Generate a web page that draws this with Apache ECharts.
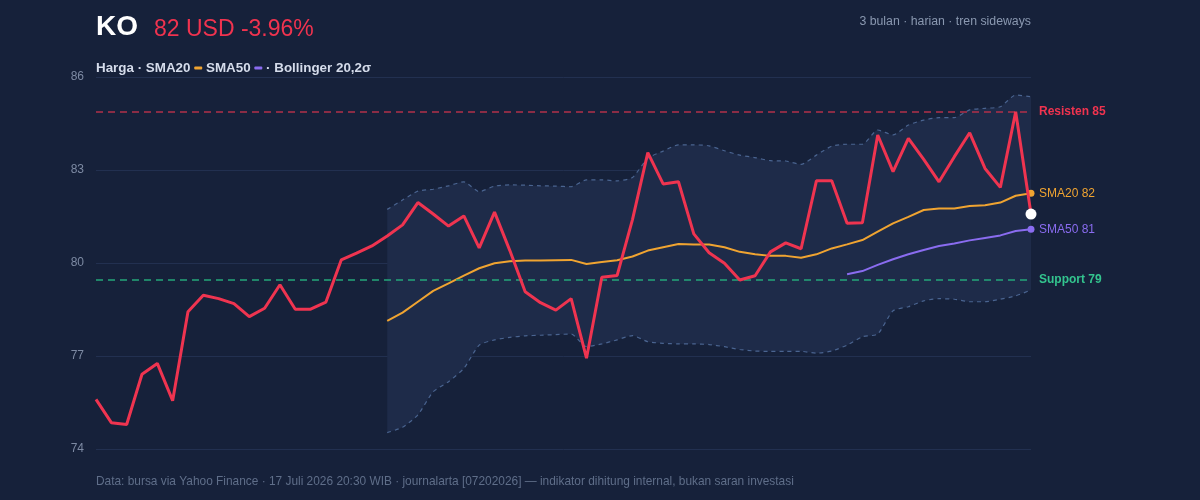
<!DOCTYPE html>
<html>
<head>
<meta charset="utf-8">
<script src="https://cdn.jsdelivr.net/npm/echarts@6/dist/echarts.min.js"></script>
<style>
html,body{margin:0;padding:0;background:#16213a;}
#c{width:1200px;height:500px;}
</style>
</head>
<body>
<div id="c"></div>
<script>
// ---- data ----
const dates = ['04-23','04-24','04-27','04-28','04-29','04-30',
'05-01','05-04','05-05','05-06','05-07','05-08','05-11','05-12','05-13','05-14','05-15','05-18','05-19','05-20','05-21','05-22','05-25','05-26','05-27','05-28','05-29',
'06-01','06-02','06-03','06-04','06-05','06-08','06-09','06-10','06-11','06-12','06-15','06-16','06-17','06-18','06-19','06-22','06-23','06-24','06-25','06-26','06-29','06-30',
'07-01','07-02','07-03','07-06','07-07','07-08','07-09','07-10','07-13','07-14','07-15','07-16','07-17'];

const price = [75.60,74.85,74.79,76.41,76.76,75.56,78.43,78.96,78.85,78.69,
78.27,78.54,79.30,78.51,78.51,78.74,80.10,80.32,80.55,80.87,
81.23,81.95,81.58,81.19,81.52,80.49,81.64,80.40,79.07,78.72,
78.48,78.85,76.93,79.54,79.60,81.40,83.56,82.55,82.62,80.94,
80.33,79.99,79.45,79.59,80.36,80.65,80.46,82.65,82.65,81.28,
81.30,84.13,82.95,84.02,83.34,82.62,83.43,84.20,83.05,82.44,
84.88,81.58];

const sma20 = [null,null,null,null,null,null,null,null,null,null,
null,null,null,null,null,null,null,null,null,78.13,
78.40,78.75,79.10,79.34,79.59,79.83,79.99,80.06,80.08,80.08,
80.09,80.10,79.97,80.03,80.09,80.21,80.40,80.51,80.61,80.60,
80.60,80.51,80.36,80.28,80.23,80.23,80.17,80.28,80.47,80.60,
80.74,81.01,81.28,81.49,81.71,81.76,81.76,81.84,81.86,81.95,
82.17,82.25];

const sma50 = [null,null,null,null,null,null,null,null,null,null,
null,null,null,null,null,null,null,null,null,null,
null,null,null,null,null,null,null,null,null,null,
null,null,null,null,null,null,null,null,null,null,
null,null,null,null,null,null,null,null,null,79.64,
79.74,79.94,80.12,80.28,80.42,80.55,80.63,80.73,80.81,80.89,
81.03,81.09];

const bbUpper = [null,null,null,null,null,null,null,null,null,null,
null,null,null,null,null,null,null,null,null,81.73,
82.03,82.32,82.38,82.49,82.62,82.30,82.48,82.52,82.51,82.49,
82.48,82.46,82.68,82.68,82.65,82.76,83.38,83.61,83.81,83.81,
83.78,83.62,83.48,83.40,83.30,83.29,83.18,83.48,83.77,83.83,
83.83,84.29,84.13,84.45,84.61,84.69,84.69,84.94,84.99,85.04,
85.42,85.36];

const bbLower = [null,null,null,null,null,null,null,null,null,null,
null,null,null,null,null,null,null,null,null,74.53,
74.70,75.10,75.85,76.17,76.60,77.35,77.52,77.60,77.65,77.67,
77.69,77.71,77.30,77.39,77.52,77.66,77.46,77.41,77.39,77.39,
77.37,77.30,77.21,77.16,77.15,77.15,77.15,77.09,77.16,77.35,
77.62,77.71,78.46,78.59,78.78,78.85,78.83,78.75,78.75,78.83,
78.94,79.13];

const resistance = 84.88;
const support = 79.45;
const yTicks = {min: 74, max: 86, step: 3};

const labels = {
  ticker: 'KO',
  quote: '82 USD -3.96%',
  sub: '3 bulan · harian · tren sideways',
  resist: 'Resisten 85',
  support: 'Support 79',
  sma20: 'SMA20 82',
  sma50: 'SMA50 81',
  footer: 'Data: bursa via Yahoo Finance · 17 Juli 2026 20:30 WIB · journalarta [07202026] — indikator dihitung internal, bukan saran investasi'
};

// ---- chart ----
const FONT = '"Liberation Sans", Arial, Helvetica, sans-serif';
const C = {
  bg: '#16213a', price: '#ef3450', sma20: '#f0a431', sma50: '#8a6cf0',
  band: '#4a6490', bandFill: '#1e2b49', grid: '#223050', axis: '#7d8aa3',
  resist: '#b13049', resistText: '#f0334f', support: '#25a779', supportText: '#33c48e'
};
const bandDiff = bbUpper.map((u, i) => (u == null || bbLower[i] == null) ? null : +(u - bbLower[i]).toFixed(2));
const last = price.length - 1;

const chart = echarts.init(document.getElementById('c'), null, {renderer: 'canvas'});
chart.setOption({
  backgroundColor: C.bg,
  animation: false,
  textStyle: {fontFamily: FONT},
  grid: {left: 96, right: 169, top: 77, bottom: 51},
  xAxis: {
    type: 'category', data: dates, boundaryGap: false,
    axisLine: {show: false}, axisTick: {show: false}, axisLabel: {show: false}, splitLine: {show: false}
  },
  yAxis: {
    type: 'value', min: yTicks.min, max: yTicks.max, interval: yTicks.step,
    axisLine: {show: false}, axisTick: {show: false},
    axisLabel: {color: C.axis, fontSize: 12, margin: 12, fontFamily: FONT},
    splitLine: {lineStyle: {color: C.grid, width: 1}}
  },
  series: [
    {name: 'bbBase', type: 'line', data: bbLower, stack: 'bb', symbol: 'none', silent: true,
     lineStyle: {opacity: 0}, smooth: 0.2},
    {name: 'bbFill', type: 'line', data: bandDiff, stack: 'bb', symbol: 'none', silent: true,
     lineStyle: {opacity: 0}, areaStyle: {color: C.bandFill, opacity: 1}, smooth: 0.2},
    {name: 'bbUpper', type: 'line', data: bbUpper, symbol: 'none', smooth: 0.2,
     lineStyle: {color: C.band, width: 1.2, type: [4, 4]}},
    {name: 'bbLower', type: 'line', data: bbLower, symbol: 'none', smooth: 0.2,
     lineStyle: {color: C.band, width: 1.2, type: [4, 4]}},
    {name: 'SMA50', type: 'line', data: sma50, showSymbol: true, symbol: 'circle',
     symbolSize: (v, p) => p.dataIndex === last ? 7 : 0,
     itemStyle: {color: C.sma50}, lineStyle: {color: C.sma50, width: 2},
     endLabel: {show: true, formatter: labels.sma50, color: C.sma50, fontSize: 12, distance: 8, fontFamily: FONT}},
    {name: 'SMA20', type: 'line', data: sma20, showSymbol: true, symbol: 'circle',
     symbolSize: (v, p) => p.dataIndex === last ? 7 : 0,
     itemStyle: {color: C.sma20}, lineStyle: {color: C.sma20, width: 2},
     endLabel: {show: true, formatter: labels.sma20, color: C.sma20, fontSize: 12, distance: 8, fontFamily: FONT}},
    {name: 'Harga', type: 'line', data: price, showSymbol: true, symbol: 'circle',
     symbolSize: (v, p) => p.dataIndex === last ? 11 : 0,
     itemStyle: {color: '#ffffff'}, lineStyle: {color: C.price, width: 3}, z: 5,
     markLine: {
       silent: true, symbol: 'none', animation: false,
       data: [
         {yAxis: resistance, lineStyle: {color: C.resist, width: 1.5, type: [7, 5]},
          label: {show: true, position: 'end', distance: 8, formatter: labels.resist, color: C.resistText, fontSize: 12, fontWeight: 'bold', fontFamily: FONT}},
         {yAxis: support, lineStyle: {color: C.support, width: 1.5, type: [7, 5]},
          label: {show: true, position: 'end', distance: 8, formatter: labels.support, color: C.supportText, fontSize: 12, fontWeight: 'bold', fontFamily: FONT}}
       ]
     }}
  ],
  graphic: [
    {type: 'text', x: 96, y: 27, style: {text: labels.ticker, fill: '#ffffff', font: 'bold 28px ' + FONT, textVerticalAlign: 'middle'}},
    {type: 'text', x: 154, y: 30, style: {text: labels.quote, fill: C.resistText, font: '23px ' + FONT, textVerticalAlign: 'middle'}},
    {type: 'text', x: 1031, y: 22, style: {text: labels.sub, fill: '#8a98b0', font: '12.3px ' + FONT, textAlign: 'right', textVerticalAlign: 'middle'}},
    {type: 'text', x: 96, y: 68, style: {
      text: 'Harga · SMA20 {o|} SMA50 {p|} · Bollinger 20,2σ',
      fill: '#d5dceb', font: 'bold 13.4px ' + FONT, textVerticalAlign: 'middle',
      rich: {
        o: {width: 8, height: 3, backgroundColor: C.sma20, borderRadius: 1},
        p: {width: 8, height: 3, backgroundColor: C.sma50, borderRadius: 1}
      }}},
    {type: 'text', x: 96, y: 482, style: {text: labels.footer, fill: '#5f6e89', font: '11.9px ' + FONT, textVerticalAlign: 'middle'}}
  ]
});
</script>
</body>
</html>
